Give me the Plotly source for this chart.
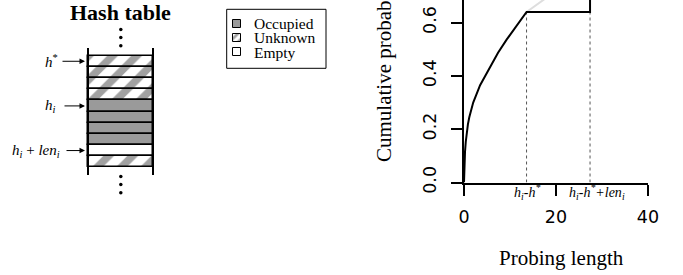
import plotly.graph_objects as go

# ---------------- data ----------------
# cumulative probability curve
cdf_x = [0, 0.05, 0.12, 0.22, 0.38, 0.59, 0.85, 1.15, 2.0, 3.5, 5.65, 7.4, 9.3, 11.45, 13.6]
cdf_y = [0, 0.04, 0.075, 0.115, 0.152, 0.186, 0.218, 0.245, 0.30, 0.365, 0.435,
         0.487, 0.537, 0.59, 0.64]
# faint continuation of the unconditioned curve
gray_x = [13.6, 17.1, 20.5]
gray_y = [0.64, 0.685, 0.725]
# key positions on the probing-length axis
h_minus_hstar = 13.6
h_minus_hstar_len = 27.4
plateau = 0.64
jump_top = 1.0

x_ticks = [0, 20, 40]
y_ticks = [0.0, 0.2, 0.4, 0.6]
y_ticktext = ["0.0", "0.2", "0.4", "0.6"]

# hash table cells, top to bottom
cell_states = ["Unknown", "Unknown", "Unknown", "Unknown",
               "Occupied", "Occupied", "Occupied", "Occupied",
               "Empty", "Unknown"]
pointer_labels = ["<i>h</i><sup>*</sup>", "<i>h<sub>i</sub></i>",
                  "<i>h<sub>i</sub></i> + <i>len<sub>i</sub></i>"]
pointer_rows = [0, 4, 8]
legend_labels = ["Occupied", "Unknown", "Empty"]

# ---------------- styles ----------------
FILL = {"Occupied": "#9a9a9a", "Unknown": "white", "Empty": "white"}
PATTERN = {"Occupied": "", "Unknown": "/", "Empty": ""}
SERIF = "Liberation Serif"
SANS = "DejaVu Sans"
W, H = 683, 275

# hash table geometry (pixel space)
tbl_left, tbl_right = 88, 153
row_top0, row_h = 55.7, 11.16
tbl_cx = (tbl_left + tbl_right) / 2

fig = go.Figure()

# ---- main chart (xy) ----
fig.add_trace(go.Scatter(x=gray_x, y=gray_y, mode="lines",
                         line=dict(color="#dedede", width=2), hoverinfo="skip",
                         showlegend=False))
for xv in [h_minus_hstar, h_minus_hstar_len]:
    fig.add_trace(go.Scatter(x=[xv, xv], y=[0, plateau], mode="lines",
                             line=dict(color="#555555", width=1, dash="dot"),
                             showlegend=False, hoverinfo="skip"))
path_x = cdf_x + [h_minus_hstar_len, h_minus_hstar_len]
path_y = cdf_y + [plateau, jump_top]
fig.add_trace(go.Scatter(x=path_x, y=path_y, mode="lines",
                         line=dict(color="black", width=2),
                         showlegend=False, hoverinfo="skip"))

# ---- hash table (x2y2, pixel coordinates) ----
n = len(cell_states)
fig.add_trace(go.Bar(
    x=[tbl_cx] * n,
    y=[row_h] * n,
    base=[row_top0 + i * row_h for i in range(n)],
    width=[tbl_right - tbl_left] * n,
    marker=dict(color=[FILL[s] for s in cell_states],
                line=dict(color="black", width=1.5),
                pattern=dict(shape=[PATTERN[s] for s in cell_states],
                             fillmode="overlay",
                             fgcolor="#d3d3d3", size=17, solidity=0.45)),
    xaxis="x2", yaxis="y2", showlegend=False, hoverinfo="skip"))

# legend swatches
sw_x, sw_size = 237, 7.5
sw_tops = [20, 34, 48.3]
fig.add_trace(go.Bar(
    x=[sw_x] * 3, y=[sw_size] * 3, base=sw_tops, width=[sw_size] * 3,
    marker=dict(color=[FILL[s] for s in legend_labels],
                line=dict(color="black", width=1),
                pattern=dict(shape=[PATTERN[s] for s in legend_labels],
                             fillmode="overlay",
                             fgcolor="#c8c8c8", size=6, solidity=0.45)),
    xaxis="x2", yaxis="y2", showlegend=False, hoverinfo="skip"))

# ellipsis dots
fig.add_trace(go.Scatter(
    x=[tbl_cx + 0.3] * 6, y=[29.5, 37.5, 45.7, 176.5, 184.5, 192.7],
    mode="markers", marker=dict(color="black", size=3.5),
    xaxis="x2", yaxis="y2", showlegend=False, hoverinfo="skip"))

shapes = []
for xv in [tbl_left, tbl_right]:
    shapes.append(dict(type="line", xref="x2", yref="y2", x0=xv, x1=xv,
                       y0=48, y1=175, line=dict(color="black", width=2)))
shapes.append(dict(type="rect", xref="x2", yref="y2", x0=226.7, x1=326,
                   y0=9.3, y1=68.3, line=dict(color="black", width=1)))

annotations = []
# hash table title
annotations.append(dict(text="<b>Hash table</b>", xref="x2", yref="y2",
                        x=120.5, y=12.5, showarrow=False,
                        font=dict(family=SERIF, size=22, color="black"),
                        xanchor="center", yanchor="middle"))
# legend texts
for lab, top in zip(legend_labels, sw_tops):
    annotations.append(dict(text=lab, xref="x2", yref="y2", x=252,
                            y=top + sw_size / 2, showarrow=False,
                            font=dict(family=SERIF, size=15.5, color="black"),
                            xanchor="left", yanchor="middle"))
# pointers
label_right = [60, 58, 62]
arrow_tail = [61, 63, 65]
for lab, r, lr, tail in zip(pointer_labels, pointer_rows, label_right, arrow_tail):
    yc = row_top0 + (r + 0.5) * row_h
    annotations.append(dict(text=lab, xref="x2", yref="y2", x=lr, y=yc,
                            showarrow=False,
                            font=dict(family=SERIF, size=15, color="black"),
                            xanchor="right", yanchor="middle"))
    annotations.append(dict(text="", xref="x2", yref="y2", x=85, y=yc,
                            ax=tail, ay=yc, axref="x2", ayref="y2",
                            showarrow=True, arrowhead=2, arrowsize=1.1,
                            arrowwidth=1, arrowcolor="black"))
# axis-position labels under the x axis
annotations.append(dict(text="<i>h<sub>i</sub>-h<sup>*</sup></i>", xref="x", yref="y",
                        x=h_minus_hstar, y=0, yshift=3, showarrow=False,
                        font=dict(family=SERIF, size=14, color="black"),
                        xanchor="center", yanchor="top"))
annotations.append(dict(text="<i>h<sub>i</sub>-h<sup>*</sup>+len<sub>i</sub></i>",
                        xref="x", yref="y", x=h_minus_hstar_len, y=0, xshift=7,
                        yshift=3, showarrow=False,
                        font=dict(family=SERIF, size=14, color="black"),
                        xanchor="center", yanchor="top"))
# axis titles
annotations.append(dict(text="Probing length", xref="paper", yref="paper",
                        x=561 / W, y=1 - 258 / H, showarrow=False,
                        font=dict(family=SERIF, size=21, color="black"),
                        xanchor="center", yanchor="middle"))
annotations.append(dict(text="Cumulative probability", xref="paper", yref="paper",
                        x=384 / W, y=1 - 64 / H, showarrow=False, textangle=-90,
                        font=dict(family=SERIF, size=21, color="black"),
                        xanchor="center", yanchor="middle"))

fig.update_layout(
    template="none",
    width=W, height=H,
    margin=dict(l=0, r=0, t=0, b=0, pad=0, autoexpand=False),
    paper_bgcolor="white", plot_bgcolor="rgba(0,0,0,0)",
    showlegend=False, bargap=0, barmode="overlay", hovermode=False,
    shapes=shapes, annotations=annotations,
    xaxis=dict(domain=[464 / W, 648 / W], range=[0, 40], automargin=False,
               showline=True, linecolor="black", linewidth=2,
               ticks="outside", ticklen=11, tickwidth=2, tickcolor="black",
               tickvals=x_ticks, tickfont=dict(family=SANS, size=17.5, color="black"),
               ticklabelstandoff=6,
               showgrid=False, zeroline=False),
    yaxis=dict(domain=[1 - 182.5 / H, 1], range=[0, 182.5 / 266.5], automargin=False,
               showline=True, linecolor="black", linewidth=2,
               ticks="outside", ticklen=11, tickwidth=2, tickcolor="black",
               tickvals=y_ticks, ticktext=y_ticktext, tickangle=-90,
               tickfont=dict(family=SANS, size=17.5, color="black"),
               ticklabelstandoff=8,
               showgrid=False, zeroline=False),
    xaxis2=dict(domain=[0, 1], range=[0, W], visible=False, anchor="y2",
                automargin=False),
    yaxis2=dict(domain=[0, 1], range=[H, 0], visible=False, anchor="x2",
                automargin=False),
)

# the page body has a default 8px margin; remove it so the figure sits at (0, 0)
fig.write_html("out.html", config={"displayModeBar": False},
               post_script="document.body.style.margin='0';")
